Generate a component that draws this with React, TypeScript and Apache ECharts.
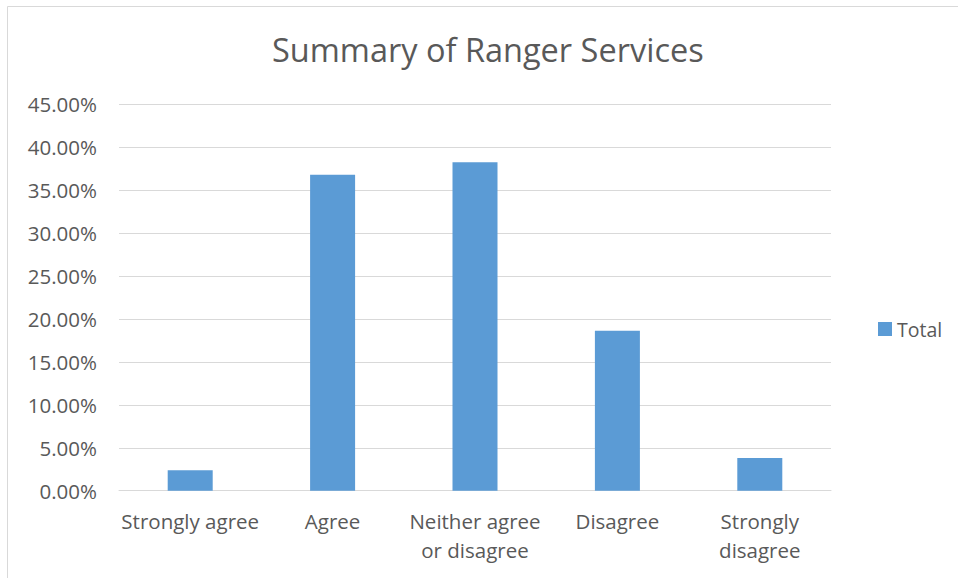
import React, { useEffect, useRef } from "react";
import * as echarts from "echarts";

const categories: string[] = [
  "Strongly agree",
  "Agree",
  "Neither agree or disagree",
  "Disagree",
  "Strongly disagree",
];
const tickLabels: string[] = [
  "Strongly agree",
  "Agree",
  "Neither agree\nor disagree",
  "Disagree",
  "Strongly\ndisagree",
];
const totalValues: number[] = [2.38, 36.8, 38.25, 18.62, 3.8];
const seriesName = "Total";
const titleText = "Summary of Ranger Services";

const FONT = "'Open Sans', sans-serif";
const TEXT = "#595959";
const GRID = "#D9D9D9";

export default function App() {
  const ref = useRef<HTMLDivElement>(null);
  useEffect(() => {
    if (!ref.current) return;
    const chart = echarts.init(ref.current, null, { renderer: "svg" });
    chart.setOption({
      animation: false,
      backgroundColor: "#ffffff",
      textStyle: { fontFamily: FONT },
      title: {
        text: titleText,
        left: 267,
        top: 28,
        textStyle: { fontFamily: FONT, fontSize: 32.5, fontWeight: "normal", color: TEXT },
      },
      graphic: [
        {
          type: "rect",
          shape: { x: 7.5, y: 6.5, width: 960, height: 620 },
          style: { fill: "none", stroke: GRID, lineWidth: 1 },
          silent: true,
        },
      ],
      legend: {
        data: [seriesName],
        left: 873,
        top: 314,
        itemWidth: 14,
        itemHeight: 14,
        itemGap: 6,
        icon: "rect",
        textStyle: { fontFamily: FONT, fontSize: 19.5, color: TEXT, padding: [0, 0, 0, 0] },
      },
      grid: { left: 119, right: 127, top: 104.4, bottom: 87.3 },
      xAxis: {
        type: "category",
        data: categories,
        axisLine: { lineStyle: { color: GRID, width: 1 } },
        axisTick: { show: false },
        axisLabel: {
          interval: 0,
          margin: 16,
          fontFamily: FONT,
          fontSize: 20.5,
          lineHeight: 29,
          color: TEXT,
          formatter: (_v: string, i: number) => tickLabels[i],
        },
      },
      yAxis: {
        type: "value",
        min: 0,
        max: 45,
        interval: 5,
        axisLine: { show: false },
        axisTick: { show: false },
        splitLine: { lineStyle: { color: GRID, width: 1 } },
        axisLabel: {
          margin: 22,
          fontFamily: FONT,
          fontSize: 20.5,
          color: TEXT,
          formatter: (v: number) => v.toFixed(2) + "%",
        },
      },
      series: [
        {
          name: seriesName,
          type: "bar",
          data: totalValues,
          barWidth: 45,
          itemStyle: { color: "#5B9BD5" },
        },
      ],
    });
    return () => chart.dispose();
  }, []);
  return (
    <div
      ref={ref}
      style={{ position: "absolute", left: 0, top: 0, width: 958, height: 578 }}
    />
  );
}
